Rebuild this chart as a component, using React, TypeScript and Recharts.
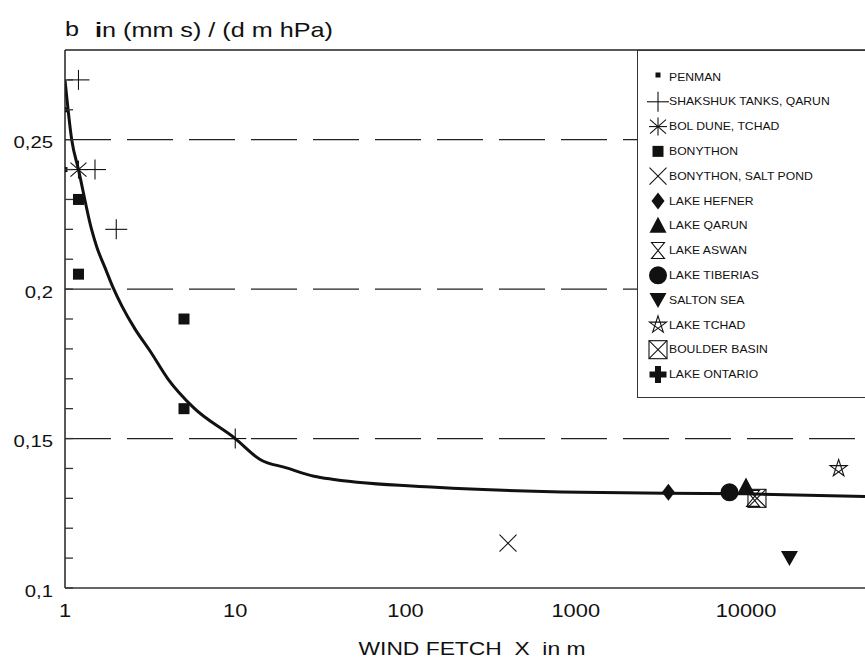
import { ComposedChart, Line, Scatter, XAxis, YAxis, ReferenceLine, Legend } from 'recharts';

// fitted curve b(X)
const curveX = [1, 1.095, 1.2, 1.435, 1.535, 1.72, 1.92, 2.16, 2.58, 3.16, 4.03, 5.65, 10, 14, 20, 29, 38, 150, 1070, 10000, 50000];
const curveY = [0.27, 0.25, 0.24, 0.2198, 0.2142, 0.2071, 0.2004, 0.1943, 0.1866, 0.1793, 0.1699, 0.1605, 0.15, 0.143, 0.1402, 0.1374, 0.1363, 0.1337, 0.132, 0.1315, 0.1306];

// measurements
const penmanX = [1, 1];
const penmanY = [0.26, 0.24];
const shakshukX = [1.2, 1.5, 2, 10];
const shakshukY = [0.27, 0.24, 0.22, 0.15];
const bolDuneX = [1.2];
const bolDuneY = [0.24];
const bonythonX = [1.2, 1.2, 5, 5];
const bonythonY = [0.23, 0.205, 0.19, 0.16];
const saltPondX = [400];
const saltPondY = [0.115];
const hefnerX = [3500];
const hefnerY = [0.132];
const qarunX = [10000];
const qarunY = [0.134];
const aswanX = [11000];
const aswanY = [0.13];
const tiberiasX = [8000];
const tiberiasY = [0.132];
const saltonX = [18000];
const saltonY = [0.11];
const tchadX = [35000];
const tchadY = [0.14];
const boulderX = [11600];
const boulderY = [0.13];
const ontarioX: number[] = [];
const ontarioY: number[] = [];

const xTicks = [1, 10, 100, 1000, 10000];
const xTickLabels = ['1', '10', '100', '1000', '10000'];
const yMajorTicks = [0.1, 0.15, 0.2, 0.25];
const yMajorLabels = ['0,1', '0,15', '0,2', '0,25'];
const yMinorTicks = [0.11, 0.12, 0.13, 0.14, 0.16, 0.17, 0.18, 0.19, 0.21, 0.22, 0.23, 0.24, 0.26, 0.27];

const ink = '#111';
const font = '"Liberation Sans", Arial, Helvetica, sans-serif';

const pts = (xs: number[], ys: number[]) => xs.map((x, i) => ({ x, y: ys[i] }));

const series = [
  { name: 'PENMAN', kind: 'penman', data: pts(penmanX, penmanY) },
  { name: 'SHAKSHUK TANKS, QARUN', kind: 'plus', data: pts(shakshukX, shakshukY) },
  { name: 'BOL DUNE, TCHAD', kind: 'asterisk', data: pts(bolDuneX, bolDuneY) },
  { name: 'BONYTHON', kind: 'square', data: pts(bonythonX, bonythonY) },
  { name: 'BONYTHON, SALT POND', kind: 'cross', data: pts(saltPondX, saltPondY) },
  { name: 'LAKE HEFNER', kind: 'diamond', data: pts(hefnerX, hefnerY) },
  { name: 'LAKE QARUN', kind: 'triangle', data: pts(qarunX, qarunY) },
  { name: 'LAKE ASWAN', kind: 'hourglass', data: pts(aswanX, aswanY) },
  { name: 'LAKE TIBERIAS', kind: 'circle', data: pts(tiberiasX, tiberiasY) },
  { name: 'SALTON SEA', kind: 'triangleDown', data: pts(saltonX, saltonY) },
  { name: 'LAKE TCHAD', kind: 'star', data: pts(tchadX, tchadY) },
  { name: 'BOULDER BASIN', kind: 'boxX', data: pts(boulderX, boulderY) },
  { name: 'LAKE ONTARIO', kind: 'thickPlus', data: pts(ontarioX, ontarioY) },
];

const Marker = ({ kind, cx, cy }: { kind: string; cx: number; cy: number }) => {
  switch (kind) {
    case 'penman':
      return <rect x={cx - 2.5} y={cy - 2.5} width={5} height={5} fill={ink} />;
    case 'plus':
      return (
        <g stroke={ink} strokeWidth={1.1}>
          <line x1={cx - 11} x2={cx + 11} y1={cy} y2={cy} />
          <line x1={cx} x2={cx} y1={cy - 10} y2={cy + 10} />
        </g>
      );
    case 'asterisk':
      return (
        <g stroke={ink} strokeWidth={1.1}>
          <line x1={cx} x2={cx} y1={cy - 9} y2={cy + 9} />
          <line x1={cx - 9} x2={cx + 9} y1={cy} y2={cy} />
          <line x1={cx - 8} x2={cx + 8} y1={cy - 7} y2={cy + 7} />
          <line x1={cx - 8} x2={cx + 8} y1={cy + 7} y2={cy - 7} />
        </g>
      );
    case 'square':
      return <rect x={cx - 5.5} y={cy - 5.5} width={11} height={11} fill={ink} />;
    case 'cross':
      return (
        <g stroke={ink} strokeWidth={1.1}>
          <line x1={cx - 8.5} x2={cx + 8.5} y1={cy - 8.5} y2={cy + 8.5} />
          <line x1={cx - 8.5} x2={cx + 8.5} y1={cy + 8.5} y2={cy - 8.5} />
        </g>
      );
    case 'diamond':
      return <path d={`M${cx},${cy - 8.5}L${cx + 6.5},${cy}L${cx},${cy + 8.5}L${cx - 6.5},${cy}Z`} fill={ink} />;
    case 'triangle':
      return <path d={`M${cx},${cy - 9}L${cx + 8.5},${cy + 7}L${cx - 8.5},${cy + 7}Z`} fill={ink} />;
    case 'triangleDown':
      return <path d={`M${cx - 8.5},${cy - 7}L${cx + 8.5},${cy - 7}L${cx},${cy + 8}Z`} fill={ink} />;
    case 'hourglass':
      return (
        <path
          d={`M${cx - 6.5},${cy - 8}L${cx + 6.5},${cy - 8}L${cx - 6.5},${cy + 8}L${cx + 6.5},${cy + 8}Z`}
          fill="none"
          stroke={ink}
          strokeWidth={1.1}
        />
      );
    case 'circle':
      return <circle cx={cx} cy={cy} r={9} fill={ink} />;
    case 'star': {
      const p = [0, 2, 4, 1, 3].map((k) => {
        const a = ((-90 + 72 * k) * Math.PI) / 180;
        return `${cx + 9 * Math.cos(a)},${cy + 9 * Math.sin(a)}`;
      });
      return <path d={`M${p.join('L')}Z`} fill="none" stroke={ink} strokeWidth={1.1} />;
    }
    case 'boxX':
      return (
        <g stroke={ink} strokeWidth={1.1} fill="none">
          <rect x={cx - 9} y={cy - 9} width={18} height={18} />
          <line x1={cx - 9} x2={cx + 9} y1={cy - 9} y2={cy + 9} />
          <line x1={cx - 9} x2={cx + 9} y1={cy + 9} y2={cy - 9} />
        </g>
      );
    case 'thickPlus':
      return (
        <path
          d={`M${cx - 3},${cy - 8.5}h6v5.5h5.5v6h-5.5v5.5h-6v-5.5h-5.5v-6h5.5Z`}
          fill={ink}
        />
      );
    default:
      return null;
  }
};

const XTick = ({ x, y, payload }: any) => {
  const label = xTickLabels[xTicks.indexOf(payload.value)];
  return (
    <g transform={`translate(${x},${y + 29}) scale(1.18,1)`}>
      <text x={0} y={0} textAnchor="middle" fontSize={18.5} fontFamily={font} fill={ink}>
        {label}
      </text>
    </g>
  );
};

const YTick = ({ x, y, payload }: any) => {
  const i = yMajorTicks.indexOf(payload.value);
  return (
    <g>
      <line x1={x + 12} x2={x + 20} y1={y} y2={y} stroke="#333" strokeWidth={1.3} />
      {i >= 0 && (
        <g transform={`translate(${x},${y + 8.5}) scale(1.27,1)`}>
          <text x={0} y={0} textAnchor="end" fontSize={16} fontFamily={font} fill={ink}>
            {yMajorLabels[i]}
          </text>
        </g>
      )}
    </g>
  );
};

const YTitle = ({ viewBox }: any) => {
  const left = viewBox.x + viewBox.width;
  const base = viewBox.y - 13.5;
  return (
    <g fontFamily={font} fontSize={21} fill={ink}>
      <text x={left} y={base} transform={`translate(${left},0) scale(1.2,1) translate(${-left},0)`}>
        b
      </text>
      <text x={left + 30} y={base} textLength={238} lengthAdjust="spacingAndGlyphs">
        <tspan fontWeight="bold">i</tspan>
        n (mm s) / (d m hPa)
      </text>
    </g>
  );
};

const XTitle = ({ viewBox }: any) => (
  <text
    x={viewBox.x + viewBox.width / 2 + 7}
    y={viewBox.y + 67}
    textAnchor="middle"
    textLength={227}
    lengthAdjust="spacingAndGlyphs"
    fontFamily={font}
    fontSize={18}
    fill={ink}
    style={{ whiteSpace: 'pre' }}
  >
    {'WIND FETCH  X  in m'}
  </text>
);

const LegendBox = () => (
  <div style={{ width: 240, height: 348, border: '1px solid #333', background: '#fff', boxSizing: 'border-box' }}>
    <svg width={238} height={346} style={{ display: 'block' }}>
      {series.map((s, i) => {
        const cy = 26 + 24.79 * i;
        return (
          <g key={s.name}>
            <Marker kind={s.kind} cx={20} cy={s.kind === 'penman' ? cy - 2 : cy} />
            <g transform={`translate(31,${cy + 3.6}) scale(1.22,1)`}>
              <text x={0} y={0} fontSize={10} fontFamily={font} fill={ink}>
                {s.name}
              </text>
            </g>
          </g>
        );
      })}
    </svg>
  </div>
);

export default function App() {
  const yTicks = [...yMajorTicks, ...yMinorTicks].sort((a, b) => a - b);
  return (
    <div style={{ position: 'absolute', left: 0, top: 0, width: 865, height: 662, overflow: 'hidden', background: '#fff' }}>
      <ComposedChart width={865} height={662} margin={{ top: 50, right: 0, bottom: 0, left: 0 }}>
        <XAxis
          dataKey="x"
          type="number"
          scale="log"
          domain={[1, 50000]}
          allowDataOverflow
          ticks={xTicks}
          interval={0}
          height={74}
          tickSize={0}
          tickMargin={0}
          tickLine={false}
          axisLine={{ stroke: '#333', strokeWidth: 1.5 }}
          tick={<XTick />}
          label={{ content: <XTitle /> } as any}
        />
        <YAxis
          dataKey="y"
          type="number"
          domain={[0.1, 0.28]}
          allowDataOverflow
          ticks={yTicks}
          interval={0}
          width={65}
          tickSize={0}
          tickMargin={12}
          tickLine={false}
          axisLine={{ stroke: '#222', strokeWidth: 1.5 }}
          tick={<YTick />}
          label={{ content: <YTitle /> } as any}
        />
        {yMajorTicks.slice(1).map((v) => (
          <ReferenceLine key={v} y={v} stroke="#222" strokeWidth={1.3} strokeDasharray="46 16" />
        ))}
        <ReferenceLine y={0.28} stroke="#222" strokeWidth={1.5} />
        <Legend
          layout="horizontal"
          verticalAlign="middle"
          align="center"
          wrapperStyle={{ left: 637, top: 50, width: 240, height: 348 }}
          content={() => <LegendBox />}
        />
        <Line
          data={pts(curveX, curveY)}
          dataKey="y"
          type="monotone"
          stroke={ink}
          strokeWidth={3}
          dot={false}
          activeDot={false}
          isAnimationActive={false}
        />
        {series.map((s) => (
          <Scatter
            key={s.name}
            name={s.name}
            data={s.data}
            dataKey="y"
            isAnimationActive={false}
            shape={(p: any) => <Marker kind={s.kind} cx={p.cx} cy={p.cy} />}
          />
        ))}
      </ComposedChart>
    </div>
  );
}
